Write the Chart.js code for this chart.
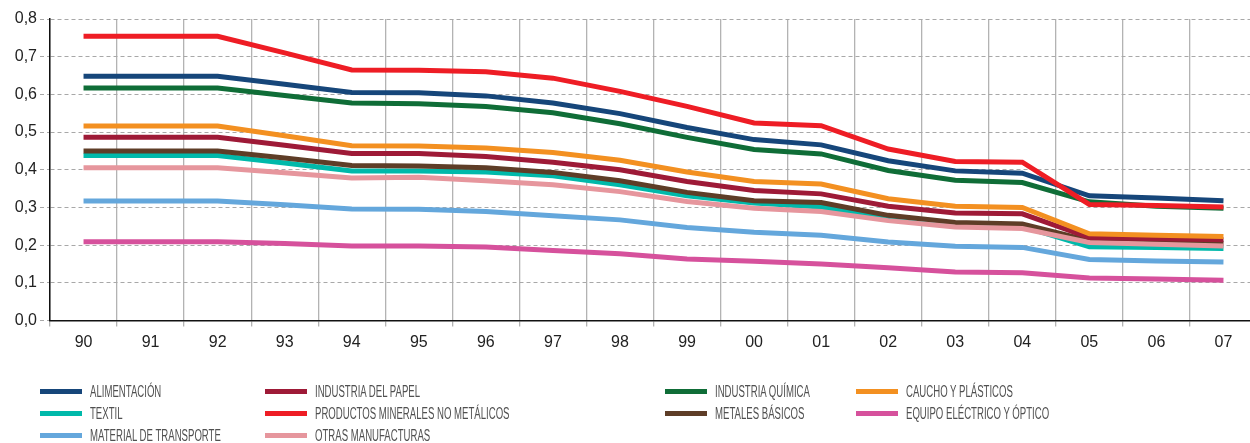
<!DOCTYPE html>
<html>
<head>
<meta charset="utf-8">
<script src="https://cdn.jsdelivr.net/npm/chart.js@4"></script>
<style>
  html, body { margin: 0; padding: 0; background: #fff; overflow: hidden; }
  #wrap { position: relative; width: 1250px; height: 443px; overflow: hidden; }
  #box { position: absolute; left: 0; top: 0; width: 1257px; height: 360px; }
  #legend { position: absolute; left: 0; top: 0; width: 1250px; height: 443px; pointer-events: none; }
  .item { position: absolute; height: 20px; }
  .sw { position: absolute; left: 0; top: 7px; width: 42px; height: 5px; }
  .tx { position: absolute; left: 50px; top: 0; white-space: nowrap; font-family: "Liberation Sans Narrow", "Liberation Sans", sans-serif;
        font-size: 16px; color: #505050; transform: scaleX(0.6); transform-origin: 0 0; line-height: 20px; }
</style>
</head>
<body>
<div id="wrap">
  <div id="box"><canvas id="chart"></canvas></div>
  <div id="legend"></div>
</div>
<script>
let years = ['90','91','92','93','94','95','96','97','98','99','00','01','02','03','04','05','06','07'];

let alimentacion = [0.648,0.648,0.648,0.627,0.605,0.604,0.596,0.577,0.549,0.512,0.480,0.466,0.424,0.397,0.391,0.331,0.325,0.318];
let papel        = [0.486,0.486,0.486,0.465,0.443,0.443,0.435,0.420,0.400,0.369,0.345,0.336,0.303,0.285,0.283,0.220,0.217,0.214];
let quimica      = [0.617,0.617,0.617,0.597,0.577,0.575,0.568,0.551,0.522,0.486,0.454,0.442,0.398,0.372,0.366,0.315,0.303,0.298];
let caucho       = [0.516,0.516,0.516,0.490,0.464,0.463,0.458,0.446,0.425,0.394,0.369,0.362,0.323,0.303,0.300,0.230,0.226,0.223];
let textil       = [0.438,0.438,0.438,0.418,0.397,0.397,0.394,0.384,0.360,0.331,0.312,0.301,0.272,0.252,0.250,0.196,0.194,0.191];
let minerales    = [0.754,0.754,0.754,0.710,0.665,0.664,0.660,0.643,0.608,0.568,0.524,0.517,0.455,0.422,0.420,0.308,0.305,0.301];
let metales      = [0.450,0.450,0.450,0.431,0.411,0.410,0.405,0.393,0.371,0.340,0.318,0.313,0.279,0.260,0.256,0.212,0.208,0.205];
let electrico    = [0.209,0.209,0.209,0.204,0.198,0.198,0.195,0.186,0.177,0.163,0.157,0.150,0.140,0.129,0.127,0.113,0.110,0.107];
let transporte   = [0.317,0.317,0.317,0.307,0.296,0.295,0.289,0.278,0.267,0.247,0.234,0.226,0.208,0.197,0.194,0.162,0.158,0.155];
let otras        = [0.405,0.405,0.405,0.392,0.378,0.380,0.371,0.360,0.342,0.316,0.298,0.289,0.265,0.248,0.244,0.207,0.202,0.198];

let yTicks = [0,0.1,0.2,0.3,0.4,0.5,0.6,0.7,0.8];

// legend order (row by row, 4 columns); order = drawing order (1 on top)
let series = [
  {label:'ALIMENTACIÓN', data:alimentacion, color:'#16467a', order:3},
  {label:'INDUSTRIA DEL PAPEL', data:papel, color:'#9e1a37', order:5},
  {label:'INDUSTRIA QUÍMICA', data:quimica, color:'#0f6d37', order:4},
  {label:'CAUCHO Y PLÁSTICOS', data:caucho, color:'#f39021', order:2},
  {label:'TEXTIL', data:textil, color:'#00b9aa', order:9},
  {label:'PRODUCTOS MINERALES NO METÁLICOS', data:minerales, color:'#ee1d25', order:1},
  {label:'METALES BÁSICOS', data:metales, color:'#5e3d27', order:7},
  {label:'EQUIPO ELÉCTRICO Y ÓPTICO', data:electrico, color:'#d6519c', order:6},
  {label:'MATERIAL DE TRANSPORTE', data:transporte, color:'#64a7dc', order:8},
  {label:'OTRAS MANUFACTURAS', data:otras, color:'#e6969d', order:6}
];

let tickFont = { family: 'Liberation Sans', size: 16 };

let chartCanv = document.getElementById('chart').getContext('2d');

let chart = new Chart(chartCanv, {
  type: 'line',
  data: {
    labels: years,
    datasets: series.map(s => ({
      label: s.label,
      data: s.data,
      borderColor: s.color,
      backgroundColor: s.color,
      borderWidth: 5,
      pointRadius: 0,
      tension: 0,
      order: s.order
    }))
  },
  options: {
    responsive: true,
    maintainAspectRatio: false,
    animation: false,
    layout: { padding: { top: 19, right: 0, left: 0, bottom: 0 } },
    plugins: { legend: { display: false }, tooltip: { enabled: false } },
    scales: {
      x: {
        offset: true,
        grid: { offset: true, color: '#b3b3b3', lineWidth: 1.3, tickLength: 6 },
        border: { color: '#111', width: 1.5 },
        ticks: { color: '#222', font: tickFont, padding: 6, maxRotation: 0, autoSkip: false },
        afterFit: s => { s.height = 39.5; }
      },
      y: {
        min: 0, max: 0.8,
        afterBuildTicks: s => { s.ticks = yTicks.map(v => ({ value: v })); },
        grid: { color: '#a8a8a8', lineWidth: 1, tickLength: 10, tickBorderDash: [4, 3] },
        border: { color: '#111', width: 1.5, dash: [4, 3] },
        ticks: {
          color: '#222', font: tickFont, padding: 3,
          callback: v => v.toFixed(1).replace('.', ',')
        },
        afterFit: s => { s.width = 50; }
      }
    }
  }
});

// legend
let legend = document.getElementById('legend');
let colX = [40, 265, 665, 856];
let rowY = [382, 404, 426];
series.forEach((s, i) => {
  let d = document.createElement('div');
  d.className = 'item';
  d.style.left = colX[i % 4] + 'px';
  d.style.top = rowY[Math.floor(i / 4)] + 'px';
  d.innerHTML = '<div class="sw" style="background:' + s.color + '"></div><div class="tx">' + s.label + '</div>';
  legend.appendChild(d);
});
</script>
</body>
</html>
